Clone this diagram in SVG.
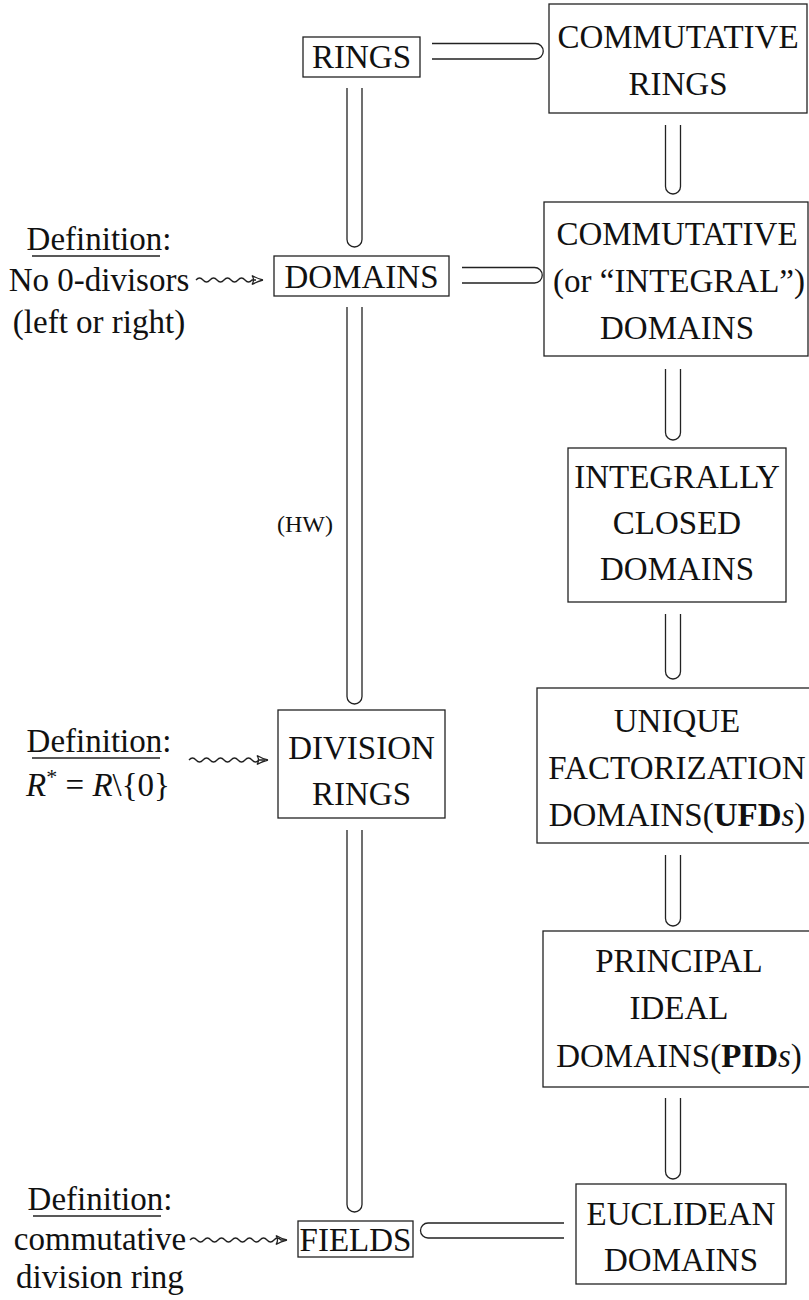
<svg xmlns="http://www.w3.org/2000/svg" width="809" height="1300" viewBox="0 0 809 1300">
<style>
text{font-family:"Liberation Serif","Times New Roman",serif;font-size:33px;fill:#111;}
.c{text-anchor:middle;}
.box{fill:none;stroke:#222;stroke-width:1.3;}
.dbl{fill:none;stroke:#222;stroke-width:1.3;}
.sq{fill:none;stroke:#222;stroke-width:1.3;}
.ul{stroke:#222;stroke-width:1.3;}
.hw{font-size:24px;}
</style>
<rect width="809" height="1300" fill="#fff"/>

<g id="connectors">
  <path class="dbl" d="M347,88 V239.5 A7.5,7.5 0 0 0 362,239.5 V88"/>
  <path class="dbl" d="M347,307 V696.5 A7.5,7.5 0 0 0 362,696.5 V307"/>
  <path class="dbl" d="M347,830 V1204.5 A7.5,7.5 0 0 0 362,1204.5 V830"/>
  <path class="dbl" d="M665.5,125 V186.5 A7.5,7.5 0 0 0 680.5,186.5 V125"/>
  <path class="dbl" d="M665.5,369 V432.5 A7.5,7.5 0 0 0 680.5,432.5 V369"/>
  <path class="dbl" d="M665.5,614 V671.5 A7.5,7.5 0 0 0 680.5,671.5 V614"/>
  <path class="dbl" d="M665.5,855 V918.5 A7.5,7.5 0 0 0 680.5,918.5 V855"/>
  <path class="dbl" d="M665.5,1098 V1171.5 A7.5,7.5 0 0 0 680.5,1171.5 V1098"/>
  <path class="dbl" d="M432,43.5 H535.5 A7.75,7.75 0 0 1 535.5,59 H432"/>
  <path class="dbl" d="M462,267.5 H534.5 A7.75,7.75 0 0 1 534.5,283 H462"/>
  <path class="dbl" d="M564,1223 H428 A7.5,7.5 0 0 0 428,1238 H564"/>
  <path class="sq" d="M196,280 q3.5,-4 7,0 t7,0 t7,0 t7,0 t7,0 t7,0 t7,0 t7,0 l4,0"/>
  <path class="sq" d="M263,280 q-6,-1.5 -11,-4.5 M263,280 q-6,1.5 -11,4.5 M252,275.5 q3,4.5 0,9"/>
  <path class="sq" d="M189,760 q3.5,-4 7,0 t7,0 t7,0 t7,0 t7,0 t7,0 t7,0 t7,0 t7,0 t7,0 l6,0"/>
  <path class="sq" d="M268,760 q-6,-1.5 -11,-4.5 M268,760 q-6,1.5 -11,4.5 M257,755.5 q3,4.5 0,9"/>
  <path class="sq" d="M190,1240 q3.5,-4 7,0 t7,0 t7,0 t7,0 t7,0 t7,0 t7,0 t7,0 t7,0 t7,0 t7,0 t7,0 t7,0 l5,0"/>
  <path class="sq" d="M287,1240 q-6,-1.5 -11,-4.5 M287,1240 q-6,1.5 -11,4.5 M276,1235.5 q3,4.5 0,9"/>
</g>

<g id="rings">
  <rect class="box" x="303" y="37" width="117" height="40"/>
  <text class="c" x="361.5" y="68">RINGS</text>
</g>
<g id="domains">
  <rect class="box" x="274" y="256" width="175" height="40"/>
  <text class="c" x="361.5" y="288">DOMAINS</text>
</g>
<g id="division-rings">
  <rect class="box" x="278" y="710" width="167" height="108"/>
  <text class="c" x="361.5" y="759">DIVISION</text>
  <text class="c" x="361.5" y="805">RINGS</text>
</g>
<g id="fields">
  <rect class="box" x="298" y="1221" width="115" height="36"/>
  <text class="c" x="355.5" y="1251">FIELDS</text>
</g>

<g id="commutative-rings">
  <rect class="box" x="549" y="4" width="258" height="109"/>
  <text class="c" x="678" y="48">COMMUTATIVE</text>
  <text class="c" x="678" y="95">RINGS</text>
</g>
<g id="integral-domains">
  <rect class="box" x="544" y="202" width="264" height="154"/>
  <text class="c" x="677" y="245">COMMUTATIVE</text>
  <text class="c" x="679" y="292">(or “INTEGRAL”)</text>
  <text class="c" x="677" y="339">DOMAINS</text>
</g>
<g id="integrally-closed">
  <rect class="box" x="568" y="448" width="218" height="154"/>
  <text class="c" x="677" y="488">INTEGRALLY</text>
  <text class="c" x="677" y="534">CLOSED</text>
  <text class="c" x="677" y="580">DOMAINS</text>
</g>
<g id="ufd">
  <rect class="box" x="537" y="688" width="280" height="155"/>
  <text class="c" x="677" y="732">UNIQUE</text>
  <text class="c" x="677" y="779">FACTORIZATION</text>
  <text class="c" x="677" y="826">DOMAINS(<tspan font-weight="bold">UFD</tspan><tspan font-style="italic">s</tspan>)</text>
</g>
<g id="pid">
  <rect class="box" x="543" y="931" width="272" height="156"/>
  <text class="c" x="679" y="972">PRINCIPAL</text>
  <text class="c" x="679" y="1019">IDEAL</text>
  <text class="c" x="679" y="1067">DOMAINS(<tspan font-weight="bold">PID</tspan><tspan font-style="italic">s</tspan>)</text>
</g>
<g id="euclidean">
  <rect class="box" x="576" y="1184" width="210" height="100"/>
  <text class="c" x="681" y="1225">EUCLIDEAN</text>
  <text class="c" x="681" y="1271">DOMAINS</text>
</g>

<g id="hw-label">
  <text class="c hw" x="305" y="532">(HW)</text>
</g>

<g id="def-domains">
  <text class="c" x="99" y="250">Definition:</text>
  <line class="ul" x1="32" y1="256" x2="160" y2="256"/>
  <text class="c" x="99" y="291">No 0-divisors</text>
  <text class="c" x="99" y="333">(left or right)</text>
</g>
<g id="def-division">
  <text class="c" x="99" y="752">Definition:</text>
  <line class="ul" x1="32" y1="758" x2="160" y2="758"/>
  <text class="c" x="98" y="796"><tspan font-style="italic">R</tspan><tspan font-size="22" dy="-12">*</tspan><tspan dy="12"> = </tspan><tspan font-style="italic">R</tspan>\{0}</text>
</g>
<g id="def-fields">
  <text class="c" x="100" y="1210">Definition:</text>
  <line class="ul" x1="33" y1="1216" x2="161" y2="1216"/>
  <text class="c" x="100" y="1250">commutative</text>
  <text class="c" x="100" y="1288">division ring</text>
</g>
</svg>
